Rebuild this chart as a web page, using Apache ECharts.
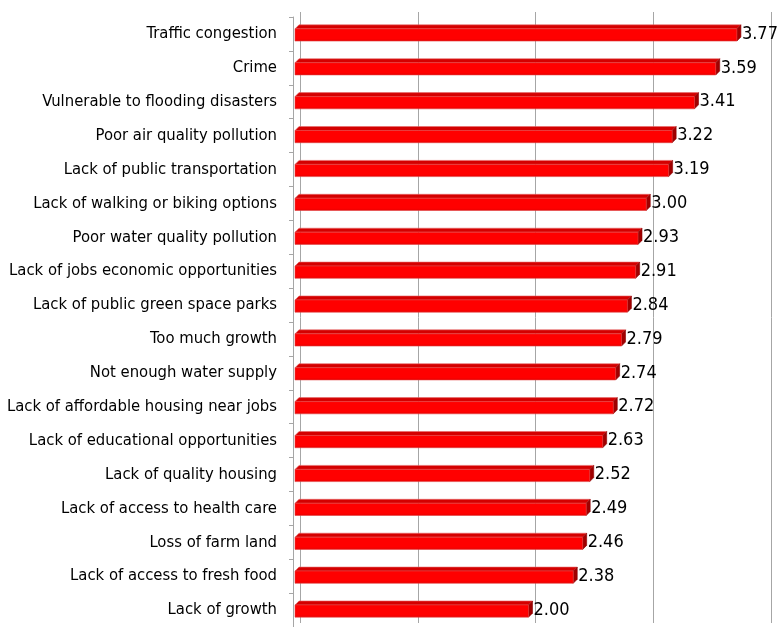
<!DOCTYPE html>
<html>
<head>
<meta charset="utf-8">
<script src="https://cdn.jsdelivr.net/npm/echarts@6/dist/echarts.min.js"></script>
<style>
  html, body { margin: 0; padding: 0; background: #fff; }
  #chart { width: 778px; height: 627px; }
</style>
</head>
<body>
<div id="chart"></div>
<script>
  // 问题类别（从上到下）
  var categories = [
    'Traffic congestion',
    'Crime',
    'Vulnerable to flooding disasters',
    'Poor air quality pollution',
    'Lack of public transportation',
    'Lack of walking or biking options',
    'Poor water quality pollution',
    'Lack of jobs economic opportunities',
    'Lack of public green space parks',
    'Too much growth',
    'Not enough water supply',
    'Lack of affordable housing near jobs',
    'Lack of educational opportunities',
    'Lack of quality housing',
    'Lack of access to health care',
    'Loss of farm land',
    'Lack of access to fresh food',
    'Lack of growth'
  ]
  // 平均分
  var scores = [3.77, 3.59, 3.41, 3.22, 3.19, 3.00, 2.93, 2.91, 2.84, 2.79, 2.74, 2.72, 2.63, 2.52, 2.49, 2.46, 2.38, 2.00]
  var axisMin = 0
  var axisMax = 4
  var axisStep = 1

  var labelFont = '"Liberation Sans Narrow", "DejaVu Sans Condensed", sans-serif'
  var depth = 4

  var myChart = echarts.init(document.getElementById('chart'))
  var option = {
    animation: false,
    grid: [
      // 后墙（网格线）
      { left: 300, right: 7, top: 12, bottom: 4, outerBoundsMode: 'none', containLabel: false },
      // 前面（柱子）
      { left: 293, right: 14, top: 17, bottom: 0, outerBoundsMode: 'none', containLabel: false }
    ],
    xAxis: [
      {
        gridIndex: 0, type: 'value', min: axisMin, max: axisMax, interval: axisStep,
        axisLine: { show: false }, axisTick: { show: false }, axisLabel: { show: false },
        splitLine: { show: true, lineStyle: { color: '#a6a6a6', width: 1 } }
      },
      {
        gridIndex: 1, type: 'value', min: axisMin, max: axisMax, interval: axisStep,
        axisLine: { show: false }, axisTick: { show: false }, axisLabel: { show: false },
        splitLine: { show: false }
      }
    ],
    yAxis: [
      {
        gridIndex: 0, type: 'category', data: categories, inverse: true,
        show: false
      },
      {
        gridIndex: 1, type: 'category', data: categories, inverse: true,
        axisLine: { show: true, lineStyle: { color: '#a6a6a6', width: 1 } },
        axisTick: { show: true, length: 4, lineStyle: { color: '#a6a6a6' } },
        axisLabel: {
          margin: 16,
          color: '#000',
          fontFamily: labelFont,
          fontSize: 16.5
        }
      }
    ],
    series: [
      {
        type: 'custom',
        xAxisIndex: 1,
        yAxisIndex: 1,
        data: scores.map(function (v, i) { return [v, i] }),
        encode: { x: 0, y: 1 },
        renderItem: function (params, api) {
          var start = api.coord([0, api.value(1)])
          var end = api.coord([api.value(0), api.value(1)])
          var band = api.size([0, 1])[1]
          var h = band * 0.36
          var x0 = start[0] + 2
          var x1 = end[0]
          var top = end[1] - h / 2 + 1
          var bottom = top + h
          return {
            type: 'group',
            children: [
              {
                type: 'polygon',
                shape: { points: [[x0, top], [x0 + depth, top - depth], [x1 + depth, top - depth], [x1, top]] },
                style: { fill: '#d40000', stroke: '#e86a6a', lineWidth: 0.6 }
              },
              {
                type: 'polygon',
                shape: { points: [[x1, top], [x1 + depth, top - depth], [x1 + depth, bottom - depth], [x1, bottom]] },
                style: { fill: '#a00000', stroke: '#8a0000', lineWidth: 0.6 }
              },
              {
                type: 'rect',
                shape: { x: x0, y: top, width: x1 - x0, height: h },
                style: {
                  fill: new echarts.graphic.LinearGradient(0, 0, 0, 1, [
                    { offset: 0, color: '#ff0000' },
                    { offset: 0.8, color: '#ff0000' },
                    { offset: 1, color: '#e60000' }
                  ]),
                  stroke: '#e04040',
                  lineWidth: 0.6
                }
              },
              {
                type: 'text',
                x: x1 + depth + 1,
                y: (top + bottom) / 2 - 1,
                style: {
                  text: api.value(0).toFixed(2),
                  fill: '#000',
                  font: '18px ' + labelFont,
                  verticalAlign: 'middle',
                  align: 'left'
                }
              }
            ]
          }
        }
      }
    ]
  }
  myChart.setOption(option, true)
</script>
</body>
</html>
